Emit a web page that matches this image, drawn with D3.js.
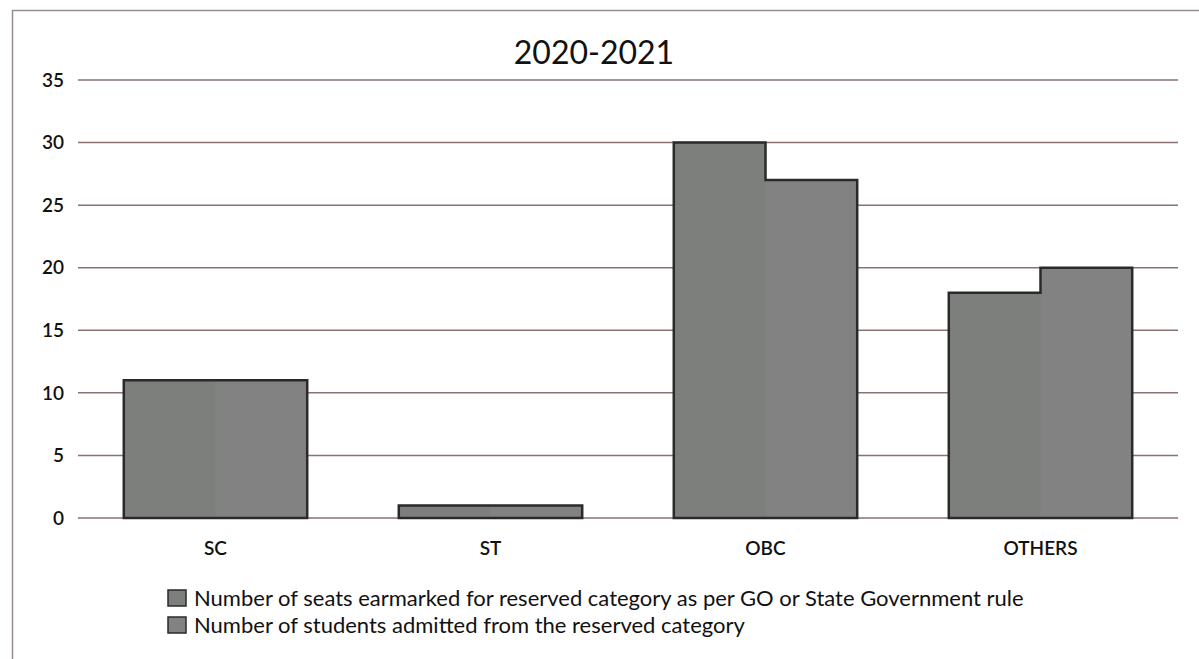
<!DOCTYPE html>
<html>
<head>
<meta charset="utf-8">
<script src="https://cdn.jsdelivr.net/npm/d3@7"></script>
<style>
  body { margin: 0; background: #fff; }
  svg { display: block; }
</style>
</head>
<body>
<svg width="1199" height="659"></svg>
<script>
let width = 1199,
    height = 659;

let categories = ["SC", "ST", "OBC", "OTHERS"];
let seatsEarmarked = [11, 1, 30, 18];
let studentsAdmitted = [11, 1, 27, 20];
let yTicks = [0, 5, 10, 15, 20, 25, 30, 35];
let seriesNames = [
  "Number of seats earmarked for reserved category as per GO or State Government rule",
  "Number of students admitted from the reserved category"
];

let font = "Lato, 'Open Sans', sans-serif";

let margin = {left: 78, right: 21, top: 80, bottom: 141};

let x = d3.scaleBand()
  .domain(categories)
  .range([margin.left, width - margin.right])
  .paddingInner(0.333)
  .paddingOuter(0.1665);

let xs = d3.scaleBand()
  .domain([0, 1])
  .range([0, x.bandwidth()]);

let y = d3.scaleLinear()
  .domain([0, 35])
  .range([height - margin.bottom, margin.top]);

let svg = d3.select("svg");

// outer frame
svg.append("rect")
  .attr("x", 12.5).attr("y", 10.5)
  .attr("width", 1300).attr("height", 800)
  .attr("fill", "none")
  .attr("stroke", "#9b8c8c")
  .attr("stroke-width", 1.5);

svg.append("text")
  .attr("x", 594).attr("y", 64)
  .attr("text-anchor", "middle")
  .attr("font-family", font)
  .attr("font-size", 32)
  .attr("fill", "#111")
  .text("2020-2021");

// gridlines
svg.append("g")
  .selectAll("line")
  .data(yTicks)
  .enter().append("line")
    .attr("x1", margin.left)
    .attr("x2", width - margin.right)
    .attr("y1", d => y(d))
    .attr("y2", d => y(d))
    .attr("stroke", "#8a7272")
    .attr("stroke-width", 1.5);

// y tick labels
svg.append("g")
  .selectAll("text")
  .data(yTicks)
  .enter().append("text")
    .attr("x", 64)
    .attr("y", d => y(d))
    .attr("dy", "0.35em")
    .attr("text-anchor", "end")
    .attr("font-family", font)
    .attr("font-size", 19)
    .attr("font-weight", 600)
    .attr("fill", "#111")
    .text(d => d);

// bars: the two series of a group share one outline
let groups = categories.map((c, i) => ({c: c, a: seatsEarmarked[i], b: studentsAdmitted[i]}));

let bars = svg.append("g")
  .selectAll("g")
  .data(groups)
  .enter().append("g");

bars.selectAll("rect")
  .data(d => [{k: 0, v: d.a, c: d.c}, {k: 1, v: d.b, c: d.c}])
  .enter().append("rect")
    .attr("x", d => x(d.c) + xs(d.k))
    .attr("y", d => y(d.v))
    .attr("width", xs.bandwidth() + 0.5)
    .attr("height", d => y(0) - y(d.v))
    .attr("fill", (d) => d.k == 0 ? "#7d7f7d" : "#828282");

bars.append("path")
  .attr("d", d => {
    let x0 = x(d.c), xm = x(d.c) + xs(1), x1 = x(d.c) + x.bandwidth();
    return "M" + x0 + "," + y(0) + "V" + y(d.a) + "H" + xm + "V" + y(d.b) +
           "H" + x1 + "V" + y(0) + "Z";
  })
  .attr("fill", "none")
  .attr("stroke", "#2a2a2a")
  .attr("stroke-width", 2.5);

// category labels
svg.append("g")
  .selectAll("text")
  .data(categories)
  .enter().append("text")
    .attr("x", d => x(d) + x.bandwidth() / 2)
    .attr("y", 555)
    .attr("text-anchor", "middle")
    .attr("font-family", font)
    .attr("font-size", 19)
    .attr("font-weight", 600)
    .attr("fill", "#111")
    .text(d => d);

// legend
let legend = svg.append("g")
  .selectAll("g")
  .data(seriesNames)
  .enter().append("g")
    .attr("transform", (d, i) => "translate(168," + (590 + i * 27) + ")");

legend.append("rect")
  .attr("width", 18).attr("height", 16)
  .attr("fill", (d, i) => i == 0 ? "#7d7f7d" : "#828282")
  .attr("stroke", "#2a2a2a")
  .attr("stroke-width", 1.5);

legend.append("text")
  .attr("x", 26)
  .attr("y", 16)
  .attr("font-family", font)
  .attr("font-size", 22)
  .attr("fill", "#111")
  .text(d => d);
</script>
</body>
</html>
